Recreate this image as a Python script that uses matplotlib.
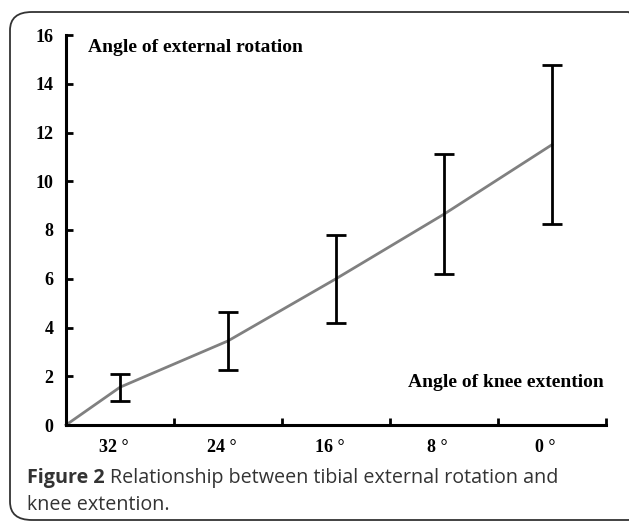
import numpy as np
import matplotlib.pyplot as plt
from matplotlib.patches import FancyBboxPatch

# dados
angulos = ['32 °', '24 °', '16 °', '8 °', '0 °']
x_pos = [0.5, 1.5, 2.5, 3.5, 4.5]
media = [1.55, 3.45, 6.0, 8.65, 11.5]
erro = [0.55, 1.2, 1.8, 2.45, 3.25]
y_ticks = [0, 2, 4, 6, 8, 10, 12, 14, 16]

serif = ['Liberation Serif', 'DejaVu Serif']
W, H = 629, 523

fig = plt.figure(figsize=(6.29, 5.23), dpi=100)

# moldura arredondada (lado direito fora da imagem)
caixa = FancyBboxPatch((10 / W, 3 / H), 640 / W, 508 / H,
                       boxstyle='round,pad=0,rounding_size=0.035',
                       transform=fig.transFigure, fill=False,
                       edgecolor='#333333', linewidth=1.3)
fig.patches.append(caixa)

ax = fig.add_axes([66 / W, 98 / H, 540 / W, 390 / H])

# linha desde a origem
ax.plot([0] + x_pos, [0] + media, color='#808080', linewidth=2, zorder=2, clip_on=False)
ax.errorbar(x_pos, media, yerr=erro, fmt='none', ecolor='black',
            elinewidth=2, capsize=7.5, capthick=2, zorder=3)

ax.set_xlim(0, 5)
ax.set_ylim(0, 16)
for s in ['top', 'right']:
    ax.spines[s].set_visible(False)
for s in ['left', 'bottom']:
    ax.spines[s].set_linewidth(2.2)

ax.set_yticks(y_ticks)
ax.set_yticklabels([str(v) for v in y_ticks], fontfamily=serif, fontweight='bold', fontsize=13)
ax.tick_params(axis='y', direction='in', length=5, width=2, pad=9)

ax.set_xticks([1, 2, 3, 4, 5])
ax.set_xticklabels([])
ax.tick_params(axis='x', which='major', direction='in', length=5, width=2)
ax.set_xticks([p - 0.06 for p in x_pos], minor=True)
ax.set_xticklabels(angulos, minor=True, fontfamily=serif, fontweight='bold', fontsize=13)
ax.tick_params(axis='x', which='minor', length=0, pad=10)

ax.text(0.2, 15.5, 'Angle of external rotation', fontfamily=serif,
        fontweight='bold', fontsize=14, va='center', ha='left')
ax.text(4.98, 1.75, 'Angle of knee extention', fontfamily=serif,
        fontweight='bold', fontsize=14, va='center', ha='right')

# legenda da figura
cor = '#333333'
t1 = fig.text(27 / W, 1 - 478 / H, 'Figure 2', fontfamily='Open Sans',
              fontweight='bold', fontsize=14.2, color=cor, va='center')
fig.canvas.draw()
bb = t1.get_window_extent()
fig.text((bb.x1 + 5) / W, 1 - 478 / H, 'Relationship between tibial external rotation and',
         fontfamily='Open Sans', fontsize=14.2, color=cor, va='center')
fig.text(27 / W, 1 - 505 / H, 'knee extention.', fontfamily='Open Sans',
         fontsize=14.2, color=cor, va='center')

fig.savefig('out.png', dpi=100)
